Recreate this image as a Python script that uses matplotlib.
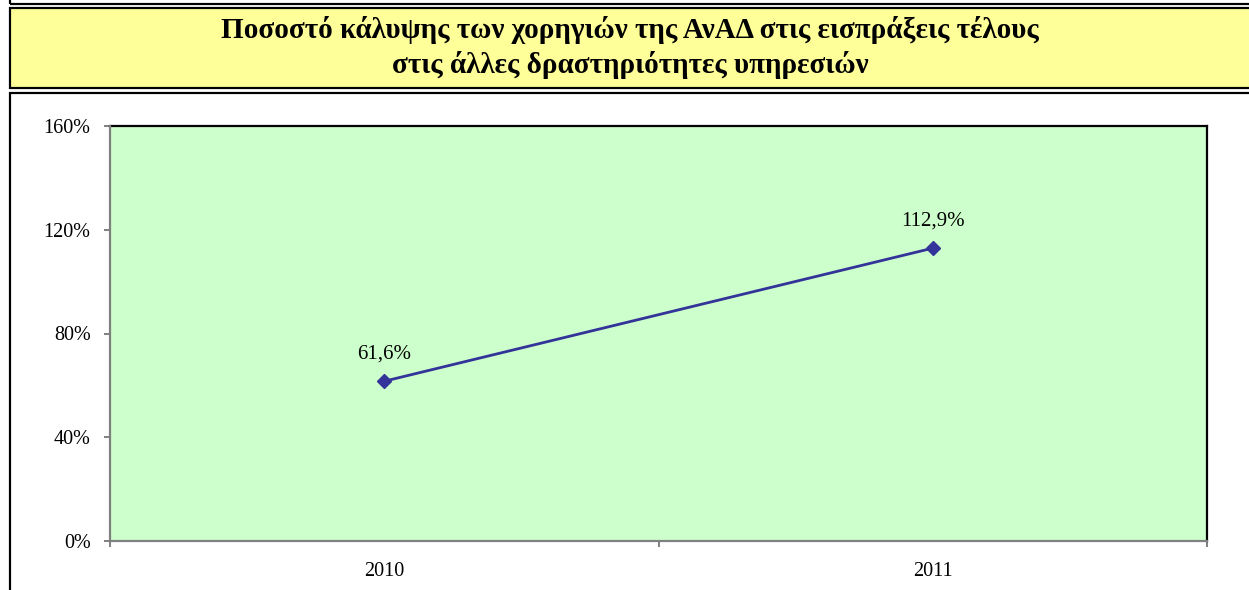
import matplotlib
matplotlib.use("Agg")
import matplotlib.pyplot as plt
from matplotlib.patches import Rectangle
from matplotlib.lines import Line2D
from matplotlib.ticker import FixedLocator, PercentFormatter

# Data
years = ["2010", "2011"]
coverage = [61.6, 112.9]
labels = ["61,6%", "112,9%"]
y_ticks = [0, 40, 80, 120, 160]
title_lines = ["Ποσοστό κάλυψης των χορηγιών της ΑνΑΔ στις εισπράξεις τέλους",
               "στις άλλες δραστηριότητες υπηρεσιών"]

W, H = 1249, 590
DPI = 100
plt.rcParams["font.family"] = ["Liberation Serif", "DejaVu Serif"]

fig = plt.figure(figsize=(W / DPI, H / DPI), dpi=DPI)
fig.patch.set_facecolor("white")


def hline(x0, x1, y, lw=2.2, color="black"):
    fig.add_artist(Line2D([x0 / W, x1 / W], [1 - y / H, 1 - y / H], color=color,
                          lw=lw * 72 / DPI, transform=fig.transFigure, solid_capstyle="butt"))


def vline(x, y0, y1, lw=2.2, color="black"):
    fig.add_artist(Line2D([x / W, x / W], [1 - y0 / H, 1 - y1 / H], color=color,
                          lw=lw * 72 / DPI, transform=fig.transFigure, solid_capstyle="butt"))


# Frames: end of the box above, title box, chart box
vline(10, 0, 4)
hline(10, W, 3.5)
fig.add_artist(Rectangle((10 / W, 1 - 88 / H), (W - 10) / W, 80 / H,
                         transform=fig.transFigure, facecolor="#FFFF99",
                         edgecolor="none", zorder=0))
hline(9, W, 7.8)
hline(9, W, 88)
vline(10, 7, 89)
hline(9, W, 93)
vline(10, 92, H)

fig.text(630 / W, 1 - 30 / H, title_lines[0], ha="center", va="center",
         fontsize=21, fontweight="bold")
fig.text(630 / W, 1 - 65 / H, title_lines[1], ha="center", va="center",
         fontsize=21, fontweight="bold")

# Plot area
left, top, right, bottom = 110, 126, 1207, 541
ax = fig.add_axes([left / W, 1 - bottom / H, (right - left) / W, (bottom - top) / H])
ax.set_facecolor("#CCFFCC")
x = list(range(len(years)))
ax.plot(x, coverage, color="#333399", lw=2.0, marker="D", markersize=7.5, zorder=3,
        clip_on=False)
for xi, v, lab in zip(x, coverage, labels):
    ax.annotate(lab, (xi, v), xytext=(0, 13), textcoords="offset points",
                ha="center", va="bottom", fontsize=15)

ax.set_xlim(-0.5, 1.5)
ax.set_ylim(0, 160)
ax.yaxis.set_major_locator(FixedLocator(y_ticks))
ax.yaxis.set_major_formatter(PercentFormatter(decimals=0))
ax.xaxis.set_major_locator(FixedLocator([-0.5, 0.5, 1.5]))
ax.xaxis.set_major_formatter(plt.NullFormatter())
ax.xaxis.set_minor_locator(FixedLocator(x))
ax.xaxis.set_minor_formatter(plt.FixedFormatter(years))
ax.tick_params(axis="x", which="major", direction="out", length=4.5, width=1.4,
               color="#808080")
ax.tick_params(axis="x", which="minor", length=0, pad=15, labelsize=14.5)
ax.tick_params(axis="y", direction="out", length=4.5, width=1.4, color="#808080",
               labelsize=14.5, pad=9.5)

for side in ("top", "right"):
    ax.spines[side].set_color("black")
    ax.spines[side].set_linewidth(1.6)
for side in ("left", "bottom"):
    ax.spines[side].set_color("#808080")
    ax.spines[side].set_linewidth(1.6)
    ax.spines[side].set_zorder(4)

fig.savefig("out.png", dpi=DPI)
